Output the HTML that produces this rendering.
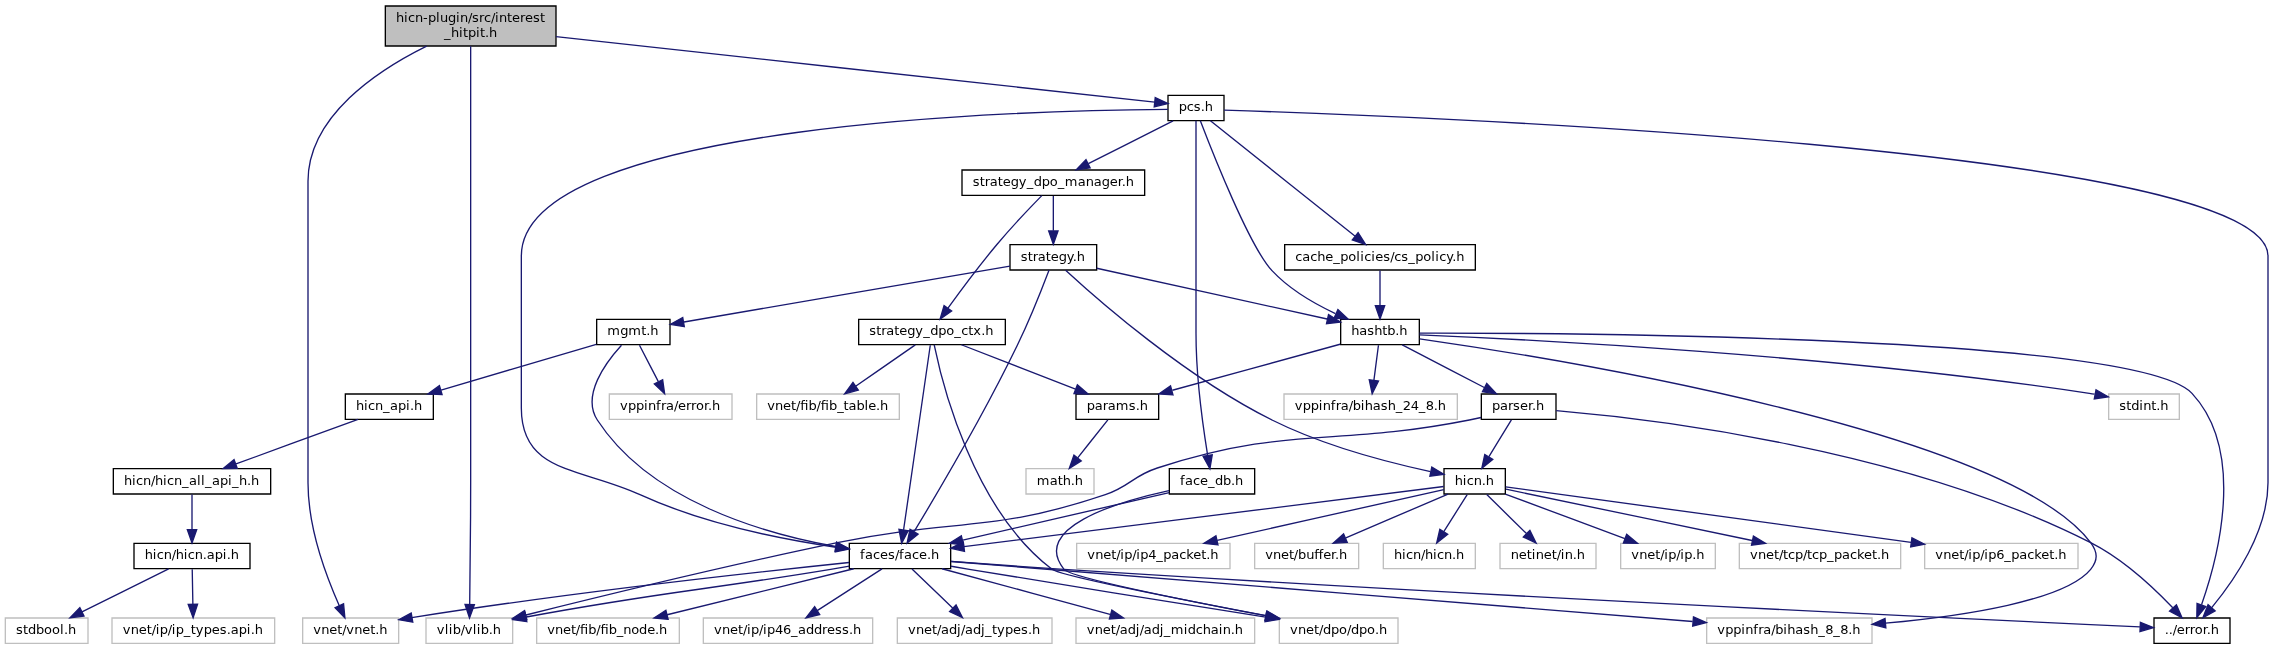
<!DOCTYPE html>
<html lang="en">
<head>
<meta charset="utf-8">
<title>hicn-plugin/src/interest_hitpit.h include dependency graph</title>
<style>
html,body{margin:0;padding:0;background:#fff;}
/* will-change promotes the graph to its own layer so text is grey-scale antialiased like the reference */
#graph{width:2273px;height:649px;overflow:hidden;background:#fff;will-change:transform;}
#graph svg{display:block;}
#graph text{font-family:"DejaVu Sans","Liberation Sans",sans-serif;font-size:13px;text-anchor:start;fill:#000;}
.edge path{fill:none;stroke:#191970;stroke-width:1.3333;}
.edge .ah{fill:#191970;stroke:#191970;stroke-width:1.3333;}
.node polygon{stroke-width:1.3333;}
.nb{fill:#fff;stroke:#000;}
.ng{fill:#fff;stroke:#bfbfbf;}
.root{fill:#bfbfbf;}

</style>
</head>
<body>
<div id="graph">
<svg width="2273" height="649" viewBox="0 0 2273 649">
<g class="node"><polygon class="nb root" points="385.333,46 385.333,6 556,6 556,46 385.333,46"/><text x="396 404 408 415 423 428 436 440 448 456 460 468 472 479 484 491 495 499 507 512 520 525 533 540" y="22">hicn-plugin/src/interest</text><text x="444 451 459 463 468 476 480 485 489" y="37">_hitpit.h</text></g>
<g class="node"><polygon class="ng" points="426,643.333 426,618 512.667,618 512.667,643.333 426,643.333"/><text x="436.667 444.667 448.667 452.667 460.667 464.667 472.667 476.667 480.667 488.667 492.667" y="634">vlib/vlib.h</text></g>
<g class="edge"><path d="M470.667,46.293C470.667,75.36 470.667,132.68 470.667,181.333 470.667,181.333 470.667,181.333 470.667,482.667 470.667,525.4 470.093,575.147 469.693,604.333"/><polygon class="ah" points="474.36,604.653 469.507,617.92 465.027,604.52 474.36,604.653"/></g>
<g class="node"><polygon class="ng" points="302.667,643.333 302.667,618 398.667,618 398.667,643.333 302.667,643.333"/><text x="313.333 321.333 329.333 337.333 342.333 346.333 354.333 362.333 370.333 375.333 379.333" y="634">vnet/vnet.h</text></g>
<g class="edge"><path d="M426.653,46.04C378.467,69.827 308,115.8 308,181.333 308,181.333 308,181.333 308,482.667 308,527.56 326.653,577.227 339.293,605.707"/><polygon class="ah" points="343.56,603.813 344.907,617.88 335.093,607.72 343.56,603.813"/></g>
<g class="node"><polygon class="nb" points="1168,120.667 1168,95.333 1224,95.333 1224,120.667 1168,120.667"/><text x="1178.667 1186.667 1193.667 1200.667 1204.667" y="111">pcs.h</text></g>
<g class="edge"><path d="M556,36.667C712.387,53.773 1039.4,89.533 1154.693,102.147"/><polygon class="ah" points="1155.24,97.52 1167.987,103.6 1154.227,106.787 1155.24,97.52"/></g>
<g class="node"><polygon class="nb" points="1340.667,344.667 1340.667,319.333 1419.333,319.333 1419.333,344.667 1340.667,344.667"/><text x="1351.333 1359.333 1367.333 1374.333 1382.333 1387.333 1395.333 1399.333" y="335">hashtb.h</text></g>
<g class="edge"><path d="M1200.333,120.787C1212.88,153.573 1249.8,246.92 1272,270.667 1289.467,289.347 1314.107,303.64 1335.427,313.587"/><polygon class="ah" points="1337.867,309.56 1348.187,319.213 1334.107,318.107 1337.867,309.56"/></g>
<g class="node"><polygon class="nb" points="849.333,568.667 849.333,543.333 950.667,543.333 950.667,568.667 849.333,568.667"/><text x="860 865 873 880 888 895 899 904 912 919 927 931" y="559">faces/face.h</text></g>
<g class="edge"><path d="M1167.867,109.333C1040.187,110.093 521.333,121.453 521.333,256 521.333,256 521.333,256 521.333,408 521.333,473.307 580.6,467.507 640,494.667 703.307,523.613 781.88,539.253 835.973,547.227"/><polygon class="ah" points="836.627,542.613 849.187,549.093 835.32,551.853 836.627,542.613"/></g>
<g class="node"><polygon class="nb" points="2154,643.333 2154,618 2230,618 2230,643.333 2154,643.333"/><text x="2164.667 2168.667 2172.667 2176.667 2184.667 2189.667 2194.667 2202.667 2206.667 2210.667" y="634">../error.h</text></g>
<g class="edge"><path d="M1224.12,110.133C1393.267,115.32 2268,147.4 2268,256 2268,256 2268,256 2268,482.667 2268,531.6 2234.24,580.453 2211.72,607.6"/><polygon class="ah" points="2215.133,610.8 2202.893,617.84 2208.067,604.693 2215.133,610.8"/></g>
<g class="node"><polygon class="nb" points="1169.333,494 1169.333,468.667 1254.667,468.667 1254.667,494 1169.333,494"/><text x="1180 1185 1193 1200 1208 1215 1223 1231 1235" y="485">face_db.h</text></g>
<g class="edge"><path d="M1196,120.747C1196,145.413 1196,205.587 1196,256 1196,256 1196,256 1196,333.333 1196,376.32 1202.88,425.987 1207.613,455.093"/><polygon class="ah" points="1212.28,454.707 1209.907,468.64 1203.08,456.267 1212.28,454.707"/></g>
<g class="node"><polygon class="nb" points="962,195.333 962,170 1144.667,170 1144.667,195.333 962,195.333"/><text x="972.667 979.667 984.667 989.667 997.667 1002.667 1010.667 1018.667 1026.667 1033.667 1041.667 1049.667 1057.667 1064.667 1077.667 1085.667 1093.667 1101.667 1109.667 1117.667 1121.667 1125.667" y="186">strategy_dpo_manager.h</text></g>
<g class="edge"><path d="M1173.08,120.907C1150.2,132.453 1114.733,150.347 1088.333,163.667"/><polygon class="ah" points="1090.2,167.947 1076.2,169.8 1086,159.627 1090.2,167.947"/></g>
<g class="node"><polygon class="nb" points="1284.667,270 1284.667,244.667 1475.333,244.667 1475.333,270 1284.667,270"/><text x="1295.333 1302.333 1310.333 1317.333 1325.333 1333.333 1340.333 1348.333 1356.333 1360.333 1364.333 1371.333 1375.333 1383.333 1390.333 1394.333 1401.333 1408.333 1415.333 1423.333 1431.333 1435.333 1439.333 1446.333 1452.333 1456.333" y="261">cache_policies/cs_policy.h</text></g>
<g class="edge"><path d="M1210.44,120.84C1241.747,145.8 1316.187,205.133 1355.187,236.227"/><polygon class="ah" points="1358.107,232.587 1365.627,244.547 1352.293,239.88 1358.107,232.587"/></g>
<g class="node"><polygon class="ng" points="2108.667,419.333 2108.667,394 2179.333,394 2179.333,419.333 2108.667,419.333"/><text x="2119.333 2126.333 2131.333 2139.333 2143.333 2151.333 2156.333 2160.333" y="410">stdint.h</text></g>
<g class="edge"><path d="M1419.427,334.84C1527.24,339.373 1835.773,354.947 2089.333,393.333 2091.067,393.6 2092.813,393.88 2094.587,394.187"/><polygon class="ah" points="2096.027,389.707 2108.253,396.773 2094.28,398.867 2096.027,389.707"/></g>
<g class="node"><polygon class="ng" points="1706.667,643.333 1706.667,618 1872,618 1872,643.333 1706.667,643.333"/><text x="1717.333 1725.333 1733.333 1741.333 1745.333 1753.333 1758.333 1763.333 1771.333 1775.333 1783.333 1787.333 1795.333 1803.333 1810.333 1818.333 1825.333 1833.333 1840.333 1848.333 1852.333" y="634">vppinfra/bihash_8_8.h</text></g>
<g class="edge"><path d="M1419.587,338.787C1556.653,358.547 2007.28,431.173 2090.667,542.667 2097.76,552.16 2098.187,560.173 2090.667,569.333 2064.96,600.667 1963.6,615.947 1885.453,623.187"/><polygon class="ah" points="1885.84,627.84 1872.147,624.36 1885.013,618.533 1885.84,627.84"/></g>
<g class="node"><polygon class="ng" points="1284,419.333 1284,394 1457.333,394 1457.333,419.333 1284,419.333"/><text x="1294.667 1302.667 1310.667 1318.667 1322.667 1330.667 1335.667 1340.667 1348.667 1352.667 1360.667 1364.667 1372.667 1380.667 1387.667 1395.667 1402.667 1410.667 1418.667 1425.667 1433.667 1437.667" y="410">vppinfra/bihash_24_8.h</text></g>
<g class="edge"><path d="M1378.453,345.227C1377.227,354.76 1375.44,368.48 1373.893,380.413"/><polygon class="ah" points="1378.52,381.04 1372.173,393.667 1369.267,379.84 1378.52,381.04"/></g>
<g class="node"><polygon class="nb" points="1076,419.333 1076,394 1158.667,394 1158.667,419.333 1076,419.333"/><text x="1086.667 1094.667 1102.667 1107.667 1115.667 1128.667 1135.667 1139.667" y="410">params.h</text></g>
<g class="edge"><path d="M1340.107,344.267C1295.373,356.533 1222.547,376.493 1172.4,390.24"/><polygon class="ah" points="1173,394.92 1158.907,393.933 1170.533,385.907 1173,394.92"/></g>
<g class="node"><polygon class="nb" points="1481.333,419.333 1481.333,394 1556,394 1556,419.333 1481.333,419.333"/><text x="1492 1500 1508 1513 1520 1528 1532 1536" y="410">parser.h</text></g>
<g class="edge"><path d="M1402.28,344.907C1424.413,356.4 1458.667,374.187 1484.293,387.48"/><polygon class="ah" points="1486.76,383.507 1496.44,393.8 1482.453,391.787 1486.76,383.507"/></g>
<g class="edge"><path d="M1419.453,333.187C1574.88,332.987 2138.973,336.24 2192,393.333 2246.08,451.56 2218.227,557 2201.533,604.707"/><polygon class="ah" points="2205.8,606.64 2196.813,617.547 2197.04,603.427 2205.8,606.64"/></g>
<g class="node"><polygon class="ng" points="1026,494 1026,468.667 1094,468.667 1094,494 1026,494"/><text x="1036.667 1049.667 1057.667 1062.667 1070.667 1074.667" y="485">math.h</text></g>
<g class="edge"><path d="M1107.867,419.893C1099.68,430.16 1087.64,445.293 1077.68,457.8"/><polygon class="ah" points="1081.253,460.813 1069.293,468.333 1073.947,455 1081.253,460.813"/></g>
<g class="edge"><path d="M1481.027,417.507C1477.093,418.4 1473.133,419.24 1469.333,420 1331.707,447.267 1290.8,424.773 1157.333,468 1132.627,476 1129.947,486.36 1105.333,494.667 990.68,533.373 955.827,518.12 837.333,542.667 726.533,565.613 598.08,596.96 526,614.987"/><polygon class="ah" points="526.853,619.573 512.787,618.293 524.587,610.533 526.853,619.573"/></g>
<g class="node"><polygon class="nb" points="1444,494 1444,468.667 1505.333,468.667 1505.333,494 1444,494"/><text x="1454.667 1462.667 1466.667 1473.667 1481.667 1485.667" y="485">hicn.h</text></g>
<g class="edge"><path d="M1511.4,419.893C1505.32,429.853 1496.44,444.373 1488.947,456.64"/><polygon class="ah" points="1492.733,459.387 1481.8,468.333 1484.773,454.52 1492.733,459.387"/></g>
<g class="edge"><path d="M1556.213,410.693C1650.8,418.76 1904.6,448.293 2090.667,542.667 2123.067,559.093 2153.827,587.96 2172.773,607.827"/><polygon class="ah" points="2176.387,604.853 2182.027,617.8 2169.547,611.2 2176.387,604.853"/></g>
<g class="node"><polygon class="ng" points="1383.333,568.667 1383.333,543.333 1475.333,543.333 1475.333,568.667 1383.333,568.667"/><text x="1394 1402 1406 1413 1421 1425 1433 1437 1444 1452 1456" y="559">hicn/hicn.h</text></g>
<g class="edge"><path d="M1467.187,494.56C1460.84,504.627 1451.573,519.347 1443.8,531.693"/><polygon class="ah" points="1447.733,534.2 1436.68,543 1439.84,529.227 1447.733,534.2"/></g>
<g class="node"><polygon class="ng" points="1500,568.667 1500,543.333 1596,543.333 1596,568.667 1500,568.667"/><text x="1510.667 1518.667 1526.667 1531.667 1535.667 1543.667 1551.667 1556.667 1560.667 1564.667 1572.667 1576.667" y="559">netinet/in.h</text></g>
<g class="edge"><path d="M1486.773,494.56C1497.56,505.147 1513.6,520.88 1526.547,533.6"/><polygon class="ah" points="1529.867,530.333 1536.12,543 1523.333,536.987 1529.867,530.333"/></g>
<g class="node"><polygon class="ng" points="1620.667,568.667 1620.667,543.333 1715.333,543.333 1715.333,568.667 1620.667,568.667"/><text x="1631.333 1639.333 1647.333 1655.333 1660.333 1664.333 1668.333 1676.333 1680.333 1684.333 1692.333 1696.333" y="559">vnet/ip/ip.h</text></g>
<g class="edge"><path d="M1505.307,494.08C1537.547,506.08 1588.56,525.08 1624.867,538.6"/><polygon class="ah" points="1626.64,534.28 1637.507,543.307 1623.387,543.027 1626.64,534.28"/></g>
<g class="node"><polygon class="ng" points="1739.333,568.667 1739.333,543.333 1900.667,543.333 1900.667,568.667 1739.333,568.667"/><text x="1750 1758 1766 1774 1779 1783 1788 1795 1803 1807 1812 1819 1827 1834 1842 1850 1857 1864 1872 1877 1881" y="559">vnet/tcp/tcp_packet.h</text></g>
<g class="edge"><path d="M1505.92,489.187C1561.253,500.72 1677.613,524.987 1752.12,540.52"/><polygon class="ah" points="1753.427,536.013 1765.52,543.307 1751.52,545.16 1753.427,536.013"/></g>
<g class="node"><polygon class="ng" points="1924.667,568.667 1924.667,543.333 2078,543.333 2078,568.667 1924.667,568.667"/><text x="1935.333 1943.333 1951.333 1959.333 1964.333 1968.333 1972.333 1980.333 1984.333 1988.333 1996.333 2004.333 2011.333 2019.333 2027.333 2034.333 2041.333 2049.333 2054.333 2058.333" y="559">vnet/ip/ip6_packet.h</text></g>
<g class="edge"><path d="M1505.64,486.907C1583.667,497.573 1790.613,525.867 1911.013,542.32"/><polygon class="ah" points="1911.96,537.733 1924.533,544.173 1910.693,546.987 1911.96,537.733"/></g>
<g class="node"><polygon class="ng" points="1076.667,568.667 1076.667,543.333 1230,543.333 1230,568.667 1076.667,568.667"/><text x="1087.333 1095.333 1103.333 1111.333 1116.333 1120.333 1124.333 1132.333 1136.333 1140.333 1148.333 1156.333 1163.333 1171.333 1179.333 1186.333 1193.333 1201.333 1206.333 1210.333" y="559">vnet/ip/ip4_packet.h</text></g>
<g class="edge"><path d="M1443.853,489.573C1391.867,501.213 1285.707,525 1217.133,540.373"/><polygon class="ah" points="1217.973,544.96 1203.947,543.333 1215.933,535.853 1217.973,544.96"/></g>
<g class="node"><polygon class="ng" points="1254.667,568.667 1254.667,543.333 1358.667,543.333 1358.667,568.667 1254.667,568.667"/><text x="1265.333" y="559" textLength="82" lengthAdjust="spacing">vnet/buffer.h</text></g>
<g class="edge"><path d="M1448.04,494.08C1420.52,505.867 1377.253,524.413 1345.827,537.88"/><polygon class="ah" points="1347.253,542.347 1333.16,543.307 1343.573,533.773 1347.253,542.347"/></g>
<g class="edge"><path d="M1443.773,486.533C1353.213,497.88 1087.08,531.227 963.907,546.667"/><polygon class="ah" points="964.48,551.293 950.667,548.32 963.32,542.027 964.48,551.293"/></g>
<g class="edge"><path d="M849.28,566.213C843.013,567.28 836.693,568.347 830.667,569.333 698.8,591.067 661.867,591.84 526.28,617.013"/><polygon class="ah" points="526.813,621.667 512.853,619.533 525.093,612.493 526.813,621.667"/></g>
<g class="edge"><path d="M849.053,562.48C760.293,571.72 571.653,592.44 413.333,617.333 412.893,617.4 412.453,617.467 412,617.547"/><polygon class="ah" points="412.773,622.147 398.853,619.773 411.213,612.947 412.773,622.147"/></g>
<g class="edge"><path d="M951.013,561.467C1094.68,573.093 1504.453,606.267 1692.667,621.507"/><polygon class="ah" points="1693.467,616.893 1706.373,622.613 1692.707,626.187 1693.467,616.893"/></g>
<g class="node"><polygon class="ng" points="536.667,643.333 536.667,618 679.333,618 679.333,643.333 536.667,643.333"/><text x="547.333" y="634" textLength="120" lengthAdjust="spacing">vnet/fib/fib_node.h</text></g>
<g class="edge"><path d="M853.733,568.747C803.227,581.2 722.2,601.173 667.12,614.76"/><polygon class="ah" points="668.12,619.32 654.053,617.973 665.88,610.253 668.12,619.32"/></g>
<g class="node"><polygon class="ng" points="703.333,643.333 703.333,618 872.667,618 872.667,643.333 703.333,643.333"/><text x="714 722 730 738 743 747 751 759 763 767 775 783 791 798 806 814 822 827 835 842 849 853" y="634">vnet/ip/ip46_address.h</text></g>
<g class="edge"><path d="M882,568.907C864.533,580.133 837.72,597.373 817.187,610.573"/><polygon class="ah" points="819.693,614.507 805.947,617.8 814.64,606.653 819.693,614.507"/></g>
<g class="node"><polygon class="ng" points="1279.333,643.333 1279.333,618 1398,618 1398,643.333 1279.333,643.333"/><text x="1290 1298 1306 1314 1319 1323 1331 1339 1347 1351 1359 1367 1375 1379" y="634">vnet/dpo/dpo.h</text></g>
<g class="edge"><path d="M950.733,566.187C956.987,567.253 963.307,568.32 969.333,569.333 1097.227,590.72 1132.4,595.387 1265.733,617.187"/><polygon class="ah" points="1266.547,612.6 1278.947,619.36 1265.04,621.8 1266.547,612.6"/></g>
<g class="node"><polygon class="ng" points="897.333,643.333 897.333,618 1052,618 1052,643.333 897.333,643.333"/><text x="908 916 924 932 937 941 949 957 961 965 973 981 985 992 997 1005 1013 1021 1028 1032" y="634">vnet/adj/adj_types.h</text></g>
<g class="edge"><path d="M912,568.907C922.92,579.44 939.347,595.267 952.627,608.08"/><polygon class="ah" points="956.093,604.947 962.453,617.56 949.613,611.653 956.093,604.947"/></g>
<g class="node"><polygon class="ng" points="1076,643.333 1076,618 1254.667,618 1254.667,643.333 1076,643.333"/><text x="1086.667 1094.667 1102.667 1110.667 1115.667 1119.667 1127.667 1135.667 1139.667 1143.667 1151.667 1159.667 1163.667 1170.667 1183.667 1187.667 1195.667 1202.667 1210.667 1218.667 1222.667 1230.667 1234.667" y="634">vnet/adj/adj_midchain.h</text></g>
<g class="edge"><path d="M942.04,568.747C987.453,581.067 1060.013,600.747 1110.027,614.32"/><polygon class="ah" points="1111.84,609.987 1123.493,617.973 1109.4,618.987 1111.84,609.987"/></g>
<g class="edge"><path d="M950.96,561.32C983.32,563.8 1026.107,566.933 1064,569.333 1478.64,595.533 1979.52,619.453 2139.933,626.933"/><polygon class="ah" points="2140.413,622.28 2153.52,627.56 2139.973,631.613 2140.413,622.28"/></g>
<g class="edge"><path d="M1169.267,492.533C1115.893,504.84 1024.147,526.013 962.773,540.173"/><polygon class="ah" points="963.44,544.813 949.4,543.267 961.347,535.72 963.44,544.813"/></g>
<g class="edge"><path d="M1168.973,490.6C1114.347,502.573 1030.947,528.28 1064,569.333 1070.427,577.307 1186.427,600.6 1265.6,615.707"/><polygon class="ah" points="1266.72,611.173 1278.947,618.253 1264.973,620.347 1266.72,611.173"/></g>
<g class="node"><polygon class="nb" points="858.667,344.667 858.667,319.333 1005.333,319.333 1005.333,344.667 858.667,344.667"/><text x="869.333 876.333 881.333 886.333 894.333 899.333 907.333 915.333 923.333 930.333 938.333 946.333 954.333 961.333 968.333 973.333 981.333 985.333" y="335">strategy_dpo_ctx.h</text></g>
<g class="edge"><path d="M1041.8,195.613C1030.2,207.467 1011.987,226.547 997.333,244 979.613,265.107 960.813,290.387 947.96,308.173"/><polygon class="ah" points="951.653,311.04 940.093,319.16 944.067,305.6 951.653,311.04"/></g>
<g class="node"><polygon class="nb" points="1010,270 1010,244.667 1096.667,244.667 1096.667,270 1010,270"/><text x="1020.667 1027.667 1032.667 1037.667 1045.667 1050.667 1058.667 1066.667 1072.667 1076.667" y="261">strategy.h</text></g>
<g class="edge"><path d="M1053.333,195.893C1053.333,205.32 1053.333,218.853 1053.333,230.68"/><polygon class="ah" points="1058,231 1053.333,244.333 1048.667,231 1058,231"/></g>
<g class="edge"><path d="M961.36,344.747C992.133,356.693 1040.747,375.587 1075.52,389.093"/><polygon class="ah" points="1077.36,384.8 1088.107,393.973 1073.987,393.493 1077.36,384.8"/></g>
<g class="edge"><path d="M930.28,345.227C925.24,380.067 910.453,482.387 903.587,529.893"/><polygon class="ah" points="908.173,530.72 901.653,543.24 898.947,529.373 908.173,530.72"/></g>
<g class="edge"><path d="M934.187,344.96C942.147,383.72 973.307,509.56 1052,569.333 1060.6,575.867 1183.907,600.12 1265.973,615.72"/><polygon class="ah" points="1267.027,611.173 1279.267,618.24 1265.293,620.347 1267.027,611.173"/></g>
<g class="node"><polygon class="ng" points="756.667,419.333 756.667,394 899.333,394 899.333,419.333 756.667,419.333"/><text x="767.333" y="410" textLength="121" lengthAdjust="spacing">vnet/fib/fib_table.h</text></g>
<g class="edge"><path d="M915.293,344.907C899.213,356.027 874.627,373.053 855.64,386.2"/><polygon class="ah" points="858.293,390.04 844.667,393.8 852.973,382.373 858.293,390.04"/></g>
<g class="edge"><path d="M1096.707,268.227C1156.213,281.347 1263.053,304.893 1327.147,319.013"/><polygon class="ah" points="1328.52,314.547 1340.533,321.973 1326.507,323.653 1328.52,314.547"/></g>
<g class="edge"><path d="M1065.6,270.2C1097.28,299.373 1185.413,376.92 1272,420 1323.653,445.707 1388.307,462.467 1430.507,471.573"/><polygon class="ah" points="1431.8,467.08 1443.907,474.373 1429.893,476.213 1431.8,467.08"/></g>
<g class="edge"><path d="M1049.093,270.067C1042.747,286.827 1030.147,318.96 1017.333,345.333 983.613,414.72 937.293,493.253 914.24,531.4"/><polygon class="ah" points="918.027,534.147 907.107,543.12 910.04,529.307 918.027,534.147"/></g>
<g class="node"><polygon class="nb" points="596.667,344.667 596.667,319.333 670,319.333 670,344.667 596.667,344.667"/><text x="607.333 620.333 628.333 641.333 646.333 650.333" y="335">mgmt.h</text></g>
<g class="edge"><path d="M1009.973,266.107C931.707,279.52 767.28,307.707 683.987,321.987"/><polygon class="ah" points="684.307,326.667 670.373,324.32 682.733,317.467 684.307,326.667"/></g>
<g class="edge"><path d="M621.48,345.213C605.64,362.547 581.36,395.4 597.333,420 649.867,500.88 763.453,533.587 835.56,546.52"/><polygon class="ah" points="836.587,541.96 848.96,548.787 835.027,551.16 836.587,541.96"/></g>
<g class="node"><polygon class="ng" points="609.333,419.333 609.333,394 732,394 732,419.333 609.333,419.333"/><text x="620 628 636 644 648 656 661 666 674 678 686 691 696 704 708 712" y="410">vppinfra/error.h</text></g>
<g class="edge"><path d="M639.493,345.227C644.613,355.08 652.027,369.4 658.347,381.587"/><polygon class="ah" points="662.627,379.68 664.613,393.667 654.333,383.973 662.627,379.68"/></g>
<g class="node"><polygon class="nb" points="345.333,419.333 345.333,394 433.333,394 433.333,419.333 345.333,419.333"/><text x="356 364 368 375 383 390 398 406 410 414" y="410">hicn_api.h</text></g>
<g class="edge"><path d="M596.28,344.267C554.893,356.48 487.64,376.32 441.093,390.067"/><polygon class="ah" points="442.067,394.64 427.947,393.933 439.413,385.693 442.067,394.64"/></g>
<g class="node"><polygon class="nb" points="113.333,494 113.333,468.667 270.667,468.667 270.667,494 113.333,494"/><text x="124 132 136 143 151 155 163 167 174 182 189 197 201 205 212 220 228 232 239 247 251" y="485">hicn/hicn_all_api_h.h</text></g>
<g class="edge"><path d="M358.067,419.413C325.16,431.413 273.08,450.413 236.027,463.933"/><polygon class="ah" points="237.253,468.453 223.12,468.64 234.053,459.693 237.253,468.453"/></g>
<g class="node"><polygon class="nb" points="134,568.667 134,543.333 250,543.333 250,568.667 134,568.667"/><text x="144.667 152.667 156.667 163.667 171.667 175.667 183.667 187.667 194.667 202.667 206.667 214.667 222.667 226.667 230.667" y="559">hicn/hicn.api.h</text></g>
<g class="edge"><path d="M192,494.56C192,503.987 192,517.52 192,529.347"/><polygon class="ah" points="196.667,529.667 192,543 187.333,529.667 196.667,529.667"/></g>
<g class="node"><polygon class="ng" points="5.333,643.333 5.333,618 88,618 88,643.333 5.333,643.333"/><text x="16 23 28 36 44 52 60 64 68" y="634">stdbool.h</text></g>
<g class="edge"><path d="M168.653,568.907C145.24,580.507 108.893,598.507 81.96,611.853"/><polygon class="ah" points="83.973,616.053 69.96,617.8 79.84,607.693 83.973,616.053"/></g>
<g class="node"><polygon class="ng" points="112,643.333 112,618 274.667,618 274.667,643.333 112,643.333"/><text x="122.667 130.667 138.667 146.667 151.667 155.667 159.667 167.667 171.667 175.667 183.667 190.667 195.667 203.667 211.667 219.667 226.667 230.667 238.667 246.667 250.667 254.667" y="634">vnet/ip/ip_types.api.h</text></g>
<g class="edge"><path d="M192.227,569.227C192.4,578.653 192.64,592.187 192.867,604.013"/><polygon class="ah" points="197.533,604.253 193.12,617.667 188.2,604.427 197.533,604.253"/></g>
<g class="edge"><path d="M1380,270.56C1380,279.987 1380,293.52 1380,305.347"/><polygon class="ah" points="1384.667,305.667 1380,319 1375.333,305.667 1384.667,305.667"/></g>
</svg>
</div>
</body>
</html>
